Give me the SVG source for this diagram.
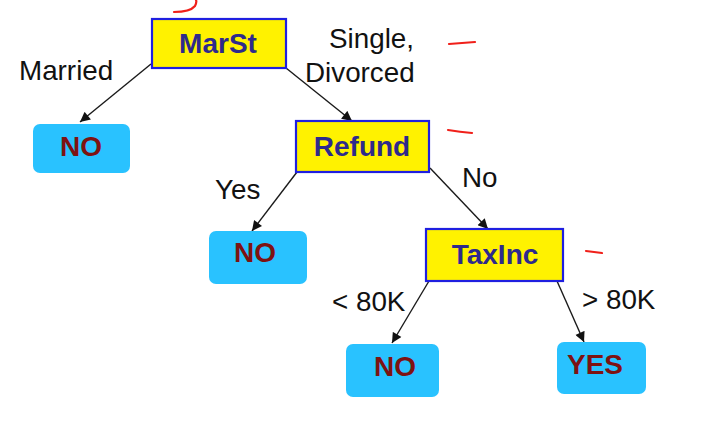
<svg xmlns="http://www.w3.org/2000/svg" width="726" height="437" viewBox="0 0 726 437">
<style>
.split rect{fill:#FFF200;stroke:#1F1FE0;stroke-width:2.2}
.split text{font-family:"Liberation Sans",Arial,sans-serif;font-weight:bold;font-size:28px;fill:#2E2A8C;text-anchor:middle}
.leaf rect{fill:#29C2FF;stroke:none}
.leaf text{font-family:"Liberation Sans",Arial,sans-serif;font-weight:bold;font-size:28px;fill:#7E1212;text-anchor:middle}
.lbl{font-family:"Liberation Sans",Arial,sans-serif;font-size:27.8px;fill:#111}
.edge{stroke:#1a1a1a;stroke-width:1.4;fill:none;marker-end:url(#arr)}
.red{stroke:#F0201A;stroke-width:2.2;fill:none;stroke-linecap:round}
</style>
<defs>
<marker id="arr" viewBox="0 0 10 10" refX="10" refY="5" markerWidth="11" markerHeight="10" markerUnits="userSpaceOnUse" orient="auto">
<path d="M0,0 L10,5 L0,10 z" fill="#111"/>
</marker>
</defs>
<rect width="726" height="437" fill="#fff"/>
<g id="connectors">
<line class="edge" x1="151" y1="64" x2="80" y2="122"/>
<line class="edge" x1="286" y1="68" x2="352" y2="121"/>
<line class="edge" x1="297" y1="172" x2="252" y2="231"/>
<line class="edge" x1="430" y1="168" x2="488" y2="229"/>
<line class="edge" x1="429" y1="281" x2="392" y2="343"/>
<line class="edge" x1="557" y1="281" x2="584" y2="342"/>
</g>
<g id="edge-labels">
<text class="lbl" x="19" y="80">Married</text>
<text class="lbl" x="329" y="48">Single,</text>
<text class="lbl" x="305" y="82">Divorced</text>
<text class="lbl" x="215" y="199">Yes</text>
<text class="lbl" x="462" y="187">No</text>
<text class="lbl" x="332" y="311">&lt; 80K</text>
<text class="lbl" x="582" y="309">&gt; 80K</text>
</g>
<g id="MarSt" class="split">
<rect x="152" y="19" width="134" height="49"/>
<text x="218" y="53">MarSt</text>
</g>
<g id="NO1" class="leaf">
<rect x="33" y="124" width="97" height="49" rx="7"/>
<text x="81" y="156">NO</text>
</g>
<g id="Refund" class="split">
<rect x="296" y="121" width="133" height="51"/>
<text x="362" y="156">Refund</text>
</g>
<g id="NO2" class="leaf">
<rect x="209" y="231" width="98" height="53" rx="7"/>
<text x="255" y="262">NO</text>
</g>
<g id="TaxInc" class="split">
<rect x="426" y="229" width="137" height="52"/>
<text x="495" y="264">TaxInc</text>
</g>
<g id="NO3" class="leaf">
<rect x="346" y="344" width="93" height="53" rx="7"/>
<text x="395" y="376">NO</text>
</g>
<g id="YES" class="leaf">
<rect x="557" y="342" width="89" height="52" rx="7"/>
<text x="595" y="374">YES</text>
</g>
<g id="annotations">
<path class="red" d="M174,12 Q190,12 195,6 Q197,2 196,0"/>
<path class="red" d="M449,44 L462,43 L475,42"/>
<path class="red" d="M448,130 Q460,132 472,133"/>
<path class="red" d="M586,251 Q594,252 602,253"/>
</g>
</svg>
